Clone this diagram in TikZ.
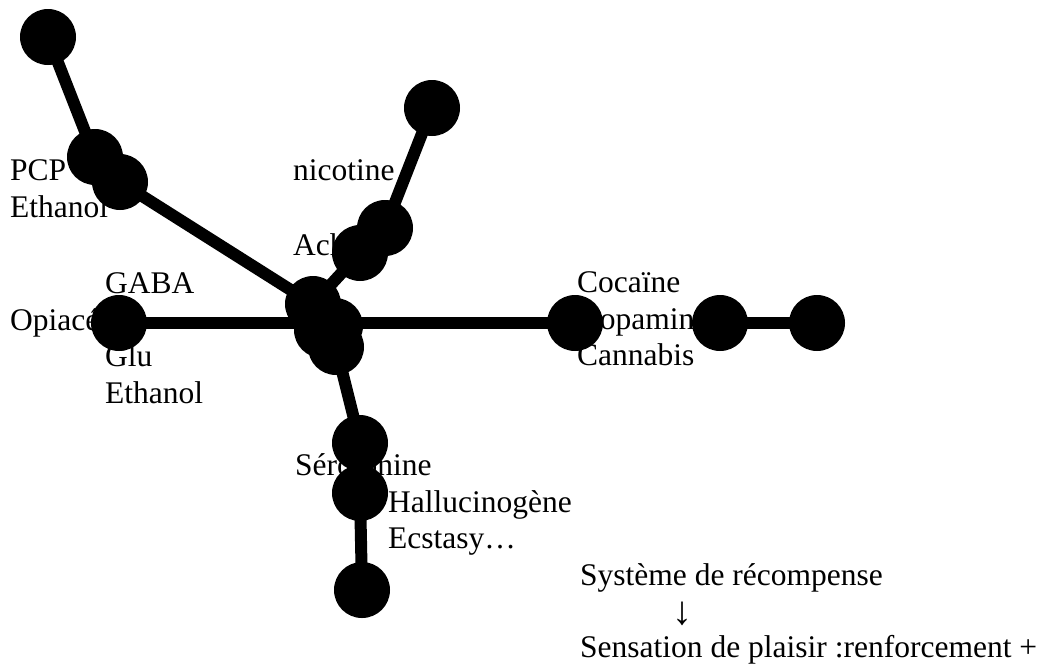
\documentclass[tikz,border=0pt]{standalone}
\usepackage{fontspec}
\setmainfont{Liberation Serif}
\begin{document}
\begin{tikzpicture}[x=1pt,y=-1pt,
  dot/.style={circle,fill=black,draw=none,minimum size=56pt,inner sep=0pt},
  lbl/.style={anchor=base west,inner sep=0pt,font=\fontsize{31.5}{36.5}\selectfont},
  bar/.style={line width=12pt}]
\useasboundingbox (0,0) rectangle (1043,670);
% labels (behind shapes)
\node[lbl] (tPCP) at (10,180) {PCP};
\node[lbl] (tEth1) at (10,217) {Ethanol};
\node[lbl] (tNic) at (293,180) {nicotine};
\node[lbl] (tAch) at (293,255) {Ach};
\node[lbl] (tGABA) at (105,293) {GABA};
\node[lbl] (tOpi) at (10,330) {Opiacés};
\node[lbl] (tGlu) at (105,366) {Glu};
\node[lbl] (tEth2) at (105,403) {Ethanol};
\node[lbl] (tCoc) at (577,292) {Cocaïne};
\node[lbl] (tDop) at (577,329) {Dopamine};
\node[lbl] (tCan) at (577,365) {Cannabis};
\node[lbl] (tSer) at (295,475) {Sérotonine};
\node[lbl] (tHal) at (388,512) {Hallucinogène};
\node[lbl] (tEcs) at (388,548) {Ecstasy…};
\node[lbl] (tSys) at (580,585) {Système de récompense};
\node[lbl,font=\fontsize{40}{44}\selectfont] (tArr) at (672,624) {↓};
\node[lbl] (tSen) at (580,657) {Sensation de plaisir :renforcement +};
% circle positions
\coordinate (pT) at (48,37);
\coordinate (pP1) at (95,157);
\coordinate (pP2) at (120,182);
\coordinate (pN0) at (432,108);
\coordinate (pN1) at (385,228);
\coordinate (pN2) at (360,253);
\coordinate (pA) at (313,304);
\coordinate (pB) at (335,326);
\coordinate (pM) at (322,330);
\coordinate (pC) at (336,347);
\coordinate (pO) at (119,323);
\coordinate (pK) at (575,323);
\coordinate (pD1) at (720,323);
\coordinate (pD2) at (817,323);
\coordinate (pS1) at (360,443);
\coordinate (pS2) at (360,493);
\coordinate (pS3) at (362,590);
% connectors
\draw[bar] (pT) -- (pP1);
\draw[bar] (pP2) -- (pA);
\draw[bar] (pN0) -- (pN1);
\draw[bar] (pN2) -- (pA);
\draw[bar] (pO) -- (pK);
\draw[bar] (pC) -- (pS1);
\draw[bar] (pS2) -- (pS3);
\draw[bar] (pD1) -- (pD2);
% circles
\foreach \n in {T,P1,P2,N0,N1,N2,A,B,M,C,O,K,D1,D2,S1,S2,S3}
  \node[dot] (c\n) at (p\n) {};
\end{tikzpicture}
\end{document}
